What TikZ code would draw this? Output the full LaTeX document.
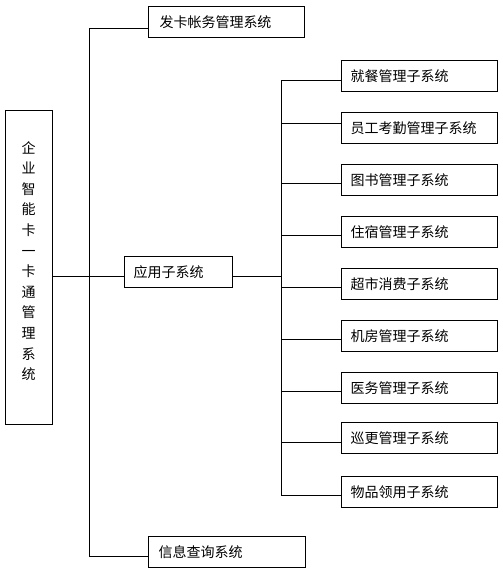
\documentclass[tikz,border=0pt]{standalone}
\usepackage{fontspec}
\newfontfamily\cjk{Noto Sans CJK SC}
\begin{document}
\begin{tikzpicture}[x=1pt,y=-1pt,
  line width=1pt,
  box/.style={draw, line width=1pt, anchor=north west, minimum height=31pt,
    inner xsep=0pt, inner ysep=0pt, align=left,
    font=\cjk\fontsize{14}{14}\selectfont},
  sbox/.style={box, minimum width=156pt, text width=146pt},
  conn/.style={line width=1pt}]
\useasboundingbox[fill=white] (0,0) rectangle (503,574);

% left main box
\node[draw, line width=1pt, anchor=north west, minimum width=47pt, minimum height=314pt, inner sep=0pt] (lb) at (5,110) {};
\node[align=center, inner sep=0pt, font=\cjk\fontsize{14}{20.6}\selectfont] (lbt) at (28.5,261)
  {企\\业\\智\\能\\卡\\一\\卡\\通\\管\\理\\系\\统};

% level 1 boxes
\node[box, minimum width=156pt, text width=145pt] (fk) at (148,6) {\hspace*{5.5pt}发卡帐务管理系统};
\node[box, minimum width=108pt, text width=100pt] (yy) at (124,256) {\hspace*{5pt}应用子系统};
\node[box, minimum width=157pt, text width=146pt] (xx) at (148,536) {\hspace*{4.5pt}信息查询系统};

% right boxes
\node[sbox] (r1) at (341,60)  {\hspace*{4pt}就餐管理子系统};
\node[sbox] (r2) at (341,112) {\hspace*{4pt}员工考勤管理子系统};
\node[sbox] (r3) at (341,164) {\hspace*{4pt}图书管理子系统};
\node[sbox] (r4) at (341,216) {\hspace*{4pt}住宿管理子系统};
\node[sbox] (r5) at (341,268) {\hspace*{4pt}超市消费子系统};
\node[sbox] (r6) at (341,320) {\hspace*{4pt}机房管理子系统};
\node[sbox] (r7) at (341,372) {\hspace*{4pt}医务管理子系统};
\node[sbox] (r8) at (341,422) {\hspace*{4pt}巡更管理子系统};
\node[sbox] (r9) at (341,476) {\hspace*{4pt}物品领用子系统};

% left tree
\coordinate (lvt) at (89,28);
\coordinate (lvb) at (89,556);
\coordinate (lvm) at (89,276);
\draw[conn] (lvt) -- (lvb);
\draw[conn] (lvt) -- (fk.west |- lvt);
\draw[conn] (lvb) -- (xx.west |- lvb);
\draw[conn] (lb.east |- lvm) -- (yy.west |- lvm);

% right tree
\coordinate (rvt) at (281,80);
\coordinate (rvb) at (281,495);
\coordinate (rvm) at (281,276);
\draw[conn] (rvt) -- (rvb);
\draw[conn] (yy.east |- rvm) -- (rvm);
\foreach \n/\y in {r1/80, r2/123, r3/183, r4/235, r5/287, r6/339, r7/391, r8/442, r9/495}
  \draw[conn] (281,\y) -- (\n.west |- 0,\y);
\end{tikzpicture}
\end{document}
